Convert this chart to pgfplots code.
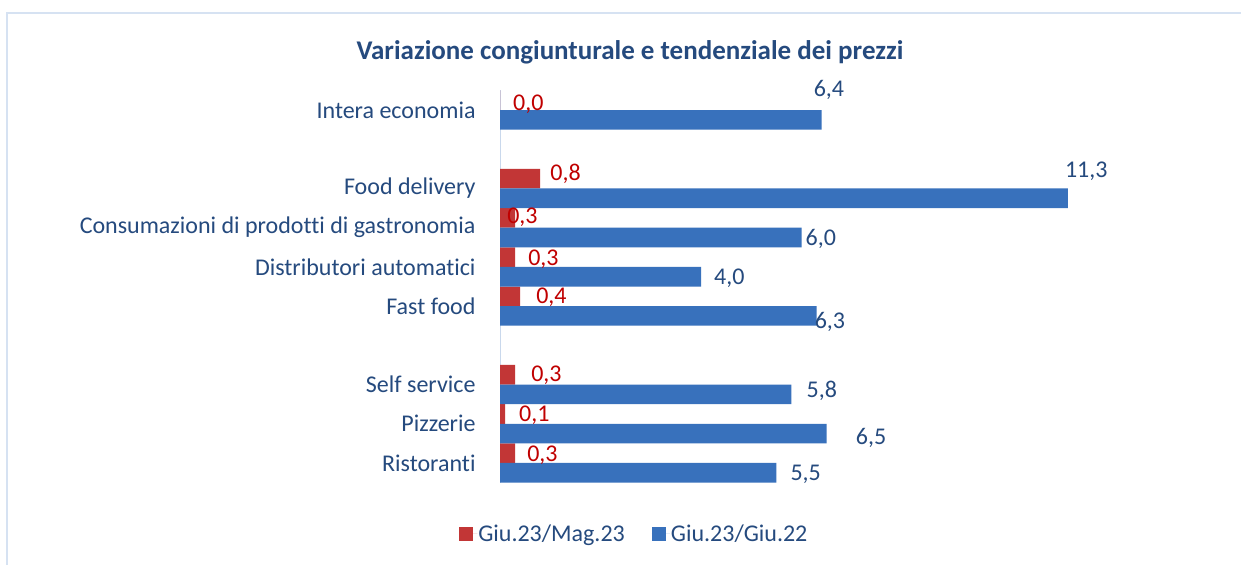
\documentclass[border=0pt]{standalone}
\usepackage{fontspec}
\setmainfont{Carlito}[Ligatures={NoCommon}]
\usepackage{pgfplots}
\pgfplotsset{compat=1.18}
\usepackage{pgfplotstable}
\definecolor{txtblue}{HTML}{254A7E}
\definecolor{lblred}{HTML}{C00000}
\definecolor{barblue}{HTML}{3871BC}
\definecolor{barred}{HTML}{C23636}
\definecolor{framec}{HTML}{D6E2F2}
\definecolor{axisc}{HTML}{C9D8EC}
\newcommand\lblfont{\fontsize{24}{28}\selectfont}

% y: 0 Ristoranti ... 9 Intera economia; dx,dy = label offsets in pt from bar end (category centre)
\pgfplotstableread{
y val dx dy
0 0.3 12 8
1 0.1 14 9
2 0.3 16 9
4 0.4 16 9
5 0.3 13 8
6 0.3 -8 10
7 0.8 10 15
9 0.0 13 6
}\redtab
\pgfplotstableread{
y val dx dy
0 5.5 14 -11
1 6.5 29 -14
2 5.8 15 -6
4 6.3 -2 -16
5 4.0 13 -11
6 6.0 4 -11
7 11.3 -3 17
9 6.4 -8 20
}\bluetab

\begin{document}
\begin{tikzpicture}
\path[use as bounding box, fill=white] (0,0) rectangle (1241pt,565pt);
\draw[framec, line width=1.5pt] (7pt,0) -- (7pt,552pt) -- (1241pt,552pt);
\node[font=\fontsize{27}{30}\selectfont\bfseries, text=txtblue, inner sep=0pt] at (630pt,513pt) {Variazione congiunturale e tendenziale dei prezzi};
\begin{axis}[
  at={(500pt,82.4pt)}, anchor=south west,
  scale only axis, width=603pt, height=392.2pt,
  xbar, bar width=0.5,
  xmin=0, xmax=12, ymin=-0.5, ymax=9.5,
  axis x line=none, axis y line*=left,
  y axis line style={draw=axisc, line width=1pt},
  xtick=\empty,
  ytick={0,1,2,4,5,6,7,9},
  yticklabels={Ristoranti, Pizzerie, Self service, Fast food, Distributori automatici, Consumazioni di prodotti di gastronomia, Food delivery, Intera economia},
  ytick style={draw=none},
  yticklabel style={font=\lblfont, text=txtblue, inner sep=0pt, xshift=-20pt},
  clip=false,
  nodes near coords,
  /pgf/number format/.cd, use comma, fixed, fixed zerofill, precision=1, assume math mode=true,
  /pgfplots/.cd,
  visualization depends on={\thisrow{dx} \as \dx},
  visualization depends on={\thisrow{dy} \as \dy},
  every node near coord/.style={anchor=west, inner sep=0pt, font=\lblfont, xshift=\dx pt, yshift=\dy pt},
  legend image code/.code={\path[#1, draw=none] (0pt,-7pt) rectangle (14pt,7pt); \path (0pt,0pt) -- (18pt,0pt);},
  legend columns=2,
  legend style={at={(0.222,-0.131)}, anchor=center, draw=none, fill=none,
    font=\lblfont, text=txtblue, nodes={inner sep=1pt},
    /tikz/every even column/.append style={column sep=26pt}},
]
\addplot[draw=none, fill=barred, bar shift=0.25,
  every node near coord/.append style={text=lblred}]
  table[x=val, y=y] {\redtab};
\addlegendentry{Giu.23/Mag.23}
\addplot[draw=none, fill=barblue, bar shift=-0.25,
  every node near coord/.append style={text=txtblue}]
  table[x=val, y=y] {\bluetab};
\addlegendentry{Giu.23/Giu.22}
\end{axis}
\end{tikzpicture}
\end{document}
